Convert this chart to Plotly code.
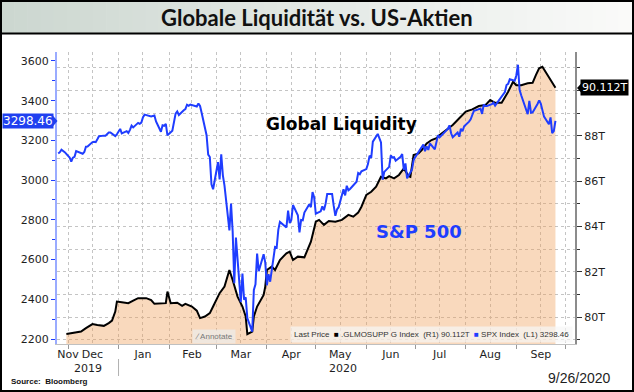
import plotly.graph_objects as go

# ---------------- data ----------------
# S&P 500 daily closes (left axis)
spx_nov19 = [(25, 3133.64), (26, 3140.52), (27, 3153.63), (29, 3140.98)]
spx_dec19 = [(2, 3113.87), (3, 3093.20), (4, 3112.76), (5, 3117.43), (6, 3145.91), (9, 3135.96),
             (10, 3132.52), (11, 3141.63), (12, 3168.57), (13, 3168.80), (16, 3191.45), (17, 3192.52),
             (18, 3191.14), (19, 3205.37), (20, 3221.22), (23, 3224.01), (24, 3223.38), (26, 3239.91),
             (27, 3240.02), (30, 3221.29), (31, 3230.78)]
spx_jan20 = [(2, 3257.85), (3, 3234.85), (6, 3246.28), (7, 3237.18), (8, 3253.05), (9, 3274.70),
             (10, 3265.35), (13, 3288.13), (14, 3283.15), (15, 3289.29), (16, 3316.81), (17, 3329.62),
             (21, 3320.79), (22, 3321.75), (23, 3325.54), (24, 3295.47), (27, 3243.63), (28, 3276.24),
             (29, 3273.40), (30, 3283.66), (31, 3225.52)]
spx_feb20 = [(3, 3248.92), (4, 3297.59), (5, 3334.69), (6, 3345.78), (7, 3327.71), (10, 3352.09),
             (11, 3357.75), (12, 3379.45), (13, 3373.94), (14, 3380.16), (18, 3370.29), (19, 3386.15),
             (20, 3373.23), (21, 3337.75), (24, 3225.89), (25, 3128.21), (26, 3116.39), (27, 2978.76),
             (28, 2954.22)]
spx_mar20 = [(2, 3090.23), (3, 3003.37), (4, 3130.12), (5, 3023.94), (6, 2972.37), (9, 2746.56),
             (10, 2882.23), (11, 2741.38), (12, 2480.64), (13, 2711.02), (16, 2386.13), (17, 2529.19),
             (18, 2398.10), (19, 2409.39), (20, 2304.92), (23, 2237.40), (24, 2447.33), (25, 2475.56),
             (26, 2630.07), (27, 2541.47), (30, 2626.65), (31, 2584.59)]
spx_apr20 = [(1, 2470.50), (2, 2526.90), (3, 2488.65), (6, 2663.68), (7, 2659.41), (8, 2749.98),
             (9, 2789.82), (13, 2761.63), (14, 2846.06), (15, 2783.36), (16, 2799.55), (17, 2874.56),
             (20, 2823.16), (21, 2736.56), (22, 2799.31), (23, 2797.80), (24, 2836.74), (27, 2878.48),
             (28, 2863.39), (29, 2939.51), (30, 2912.43)]
spx_may20 = [(1, 2830.71), (4, 2842.74), (5, 2868.44), (6, 2848.42), (7, 2881.19), (8, 2929.80),
             (11, 2930.32), (12, 2870.12), (13, 2820.00), (14, 2852.50), (15, 2863.70), (18, 2953.91),
             (19, 2922.94), (20, 2971.61), (21, 2948.51), (22, 2955.45), (26, 2991.77), (27, 3036.13),
             (28, 3029.73), (29, 3044.31)]
spx_jun20 = [(1, 3055.73), (2, 3080.82), (3, 3122.87), (4, 3112.35), (5, 3193.93), (8, 3232.39),
             (9, 3207.18), (10, 3190.14), (11, 3002.10), (12, 3041.31), (15, 3066.59), (16, 3124.74),
             (17, 3113.49), (18, 3115.34), (19, 3097.74), (22, 3117.86), (23, 3131.29), (24, 3050.33),
             (25, 3083.76), (26, 3009.05), (29, 3053.24), (30, 3100.29)]
spx_jul20 = [(1, 3115.86), (2, 3130.01), (6, 3179.72), (7, 3145.32), (8, 3169.94), (9, 3152.05),
             (10, 3185.04), (13, 3155.22), (14, 3197.52), (15, 3226.56), (16, 3215.57), (17, 3224.73),
             (20, 3251.84), (21, 3257.30), (22, 3276.02), (23, 3235.66), (24, 3215.63), (27, 3239.41),
             (28, 3218.44), (29, 3258.44), (30, 3246.22), (31, 3271.12)]
spx_aug20 = [(3, 3294.61), (4, 3306.51), (5, 3327.77), (6, 3349.16), (7, 3351.28), (10, 3360.47),
             (11, 3333.69), (12, 3380.35), (13, 3373.43), (14, 3372.85), (17, 3381.99), (18, 3389.78),
             (19, 3374.85), (20, 3385.51), (21, 3397.16), (24, 3431.28), (25, 3443.62), (26, 3478.73),
             (27, 3484.55), (28, 3508.01), (31, 3500.31)]
spx_sep20 = [(1, 3526.65), (2, 3580.84), (3, 3455.06), (4, 3426.96), (8, 3331.84), (9, 3398.96),
             (10, 3339.19), (11, 3340.97), (14, 3383.54), (15, 3401.20), (16, 3385.49), (17, 3357.01),
             (18, 3319.47), (21, 3281.06), (22, 3315.57), (23, 3236.92), (24, 3246.59), (25, 3298.46)]

# Global liquidity (.GLMOSUPP G Index, USD trillions, right axis)
liq_2019 = [("2019-11-30", 79.26), ("2019-12-04", 79.32), ("2019-12-09", 79.37), ("2019-12-12", 79.52),
            ("2019-12-16", 79.70), ("2019-12-19", 79.66), ("2019-12-23", 79.62), ("2019-12-26", 79.74),
            ("2019-12-28", 79.85), ("2019-12-30", 80.25), ("2019-12-31", 80.69)]
liq_2020 = [("2020-01-03", 80.66), ("2020-01-07", 80.62), ("2020-01-10", 80.73), ("2020-01-13", 80.84),
            ("2020-01-18", 80.84), ("2020-01-21", 80.76), ("2020-01-23", 80.59), ("2020-01-27", 80.62),
            ("2020-01-30", 80.62), ("2020-01-31", 81.13), ("2020-02-02", 80.62), ("2020-02-06", 80.64),
            ("2020-02-09", 80.50), ("2020-02-11", 80.59), ("2020-02-15", 80.47), ("2020-02-18", 80.29),
            ("2020-02-20", 79.96), ("2020-02-23", 80.03), ("2020-02-26", 80.18), ("2020-02-28", 80.47),
            ("2020-03-03", 81.06), ("2020-03-06", 81.35), ("2020-03-09", 82.08), ("2020-03-11", 81.64),
            ("2020-03-14", 80.91), ("2020-03-17", 80.47), ("2020-03-19", 80.03), ("2020-03-20", 79.25),
            ("2020-03-23", 79.37), ("2020-03-24", 80.03), ("2020-03-26", 80.47), ("2020-03-30", 80.98),
            ("2020-03-31", 81.35), ("2020-04-01", 82.08), ("2020-04-04", 82.23), ("2020-04-06", 82.08),
            ("2020-04-09", 82.52), ("2020-04-13", 82.82), ("2020-04-15", 82.89), ("2020-04-17", 82.52),
            ("2020-04-20", 82.67), ("2020-04-24", 82.64), ("2020-04-26", 82.96), ("2020-04-28", 83.33),
            ("2020-05-01", 84.21), ("2020-05-03", 84.29), ("2020-05-06", 84.07), ("2020-05-09", 84.24),
            ("2020-05-13", 84.21), ("2020-05-17", 84.29), ("2020-05-21", 84.51), ("2020-05-24", 84.43),
            ("2020-05-27", 84.61), ("2020-05-29", 84.87), ("2020-06-01", 85.39), ("2020-06-04", 85.53),
            ("2020-06-07", 85.75), ("2020-06-10", 86.19), ("2020-06-13", 86.12), ("2020-06-15", 86.22),
            ("2020-06-18", 86.12), ("2020-06-21", 86.27), ("2020-06-24", 86.56), ("2020-06-27", 86.22),
            ("2020-06-28", 86.19), ("2020-06-30", 87.15), ("2020-07-03", 87.22), ("2020-07-05", 87.37),
            ("2020-07-08", 87.66), ("2020-07-11", 87.81), ("2020-07-14", 87.89), ("2020-07-16", 88.03),
            ("2020-07-20", 88.25), ("2020-07-24", 88.47), ("2020-07-28", 88.77), ("2020-08-01", 89.06),
            ("2020-08-05", 89.16), ("2020-08-09", 89.31), ("2020-08-13", 89.35), ("2020-08-16", 89.57),
            ("2020-08-19", 89.45), ("2020-08-23", 89.45), ("2020-08-27", 89.94), ("2020-08-30", 90.38),
            ("2020-09-01", 90.23), ("2020-09-04", 90.23), ("2020-09-08", 90.31), ("2020-09-11", 90.33),
            ("2020-09-13", 90.67), ("2020-09-15", 90.97), ("2020-09-17", 91.04), ("2020-09-19", 90.82),
            ("2020-09-22", 90.45), ("2020-09-25", 90.112)]

month_tick_dates = ["2019-12-01", "2019-12-16", "2020-01-16", "2020-02-15", "2020-03-16", "2020-04-16",
                    "2020-05-16", "2020-06-16", "2020-07-16", "2020-08-16", "2020-09-16"]
month_labels = ["Nov", "Dec", "Jan", "Feb", "Mar", "Apr", "May", "Jun", "Jul", "Aug", "Sep"]
month_starts = ["2019-12-01", "2020-01-01", "2020-02-01", "2020-03-01", "2020-04-01", "2020-05-01",
                "2020-06-01", "2020-07-01", "2020-08-01", "2020-09-01", "2020-10-01"]
left_ticks = [2200, 2400, 2600, 2800, 3000, 3200, 3400, 3600]
right_ticks = [80, 82, 84, 86, 88, 90]
right_labels = ["80T", "82T", "84T", "86T", "88T", ""]  # 90T is hidden behind the last-value box
spx_last = 3298.46
liq_last = 90.112

# ---------------- build series ----------------
spx_months = [("2019-11", spx_nov19), ("2019-12", spx_dec19), ("2020-01", spx_jan20), ("2020-02", spx_feb20),
              ("2020-03", spx_mar20), ("2020-04", spx_apr20), ("2020-05", spx_may20), ("2020-06", spx_jun20),
              ("2020-07", spx_jul20), ("2020-08", spx_aug20), ("2020-09", spx_sep20)]
spx_x, spx_y = [], []
for ym, rows in spx_months:
    for d, v in rows:
        spx_x.append(f"{ym}-{d:02d}")
        spx_y.append(v)
liq_x = [d for d, _ in liq_2019 + liq_2020]
liq_y = [v for _, v in liq_2019 + liq_2020]

# ---------------- geometry helpers (pixel -> paper) ----------------
W, H = 634, 392
L, R, T, B = 57, 575, 52, 344
PW, PH = R - L, B - T


def fx(px):
    return (px - L) / PW


def fy(py):
    return (B - py) / PH


BLUE = "#1f3dff"
GRID = "#c4c4c4"
TICKFONT = dict(family="DejaVu Sans", size=11, color="#1e1e1e")

fig = go.Figure()
fig.add_trace(go.Scatter(x=liq_x, y=liq_y, yaxis="y", mode="lines", fill="tozeroy",
                         fillcolor="rgba(240,160,90,0.40)", line=dict(color="#000000", width=2),
                         name=".GLMOSUPP G Index", hoverinfo="x+y"))
fig.add_trace(go.Scatter(x=spx_x, y=spx_y, yaxis="y2", mode="lines",
                         line=dict(color=BLUE, width=2), name="SPX Index", hoverinfo="x+y"))

shapes = []
# title bar gradient
N = 48
c0, c1 = (204, 215, 208), (250, 250, 249)
for i in range(N):
    t = i / (N - 1)
    col = tuple(round(c0[k] + (c1[k] - c0[k]) * t) for k in range(3))
    x0 = 1 + i * (631 / N)
    x1 = 1 + (i + 1) * (631 / N) + 0.6
    shapes.append(dict(type="rect", xref="paper", yref="paper", x0=fx(x0), x1=fx(x1), y0=fy(33), y1=fy(1),
                       fillcolor="rgb(%d,%d,%d)" % col, line=dict(width=0), layer="below"))
# title underline and outer frame
shapes.append(dict(type="line", xref="paper", yref="paper", x0=fx(0), x1=fx(634), y0=fy(33.5), y1=fy(33.5),
                   line=dict(color="#000", width=2)))
shapes.append(dict(type="rect", xref="paper", yref="paper", x0=fx(1), x1=fx(633), y0=fy(391), y1=fy(1),
                   line=dict(color="#000", width=2)))
# year separator
shapes.append(dict(type="line", xref="x", yref="paper", x0="2020-01-01", x1="2020-01-01",
                   y0=fy(359), y1=fy(376), line=dict(color="#b0b0b0", width=1)))
# arrow of left value box
shapes.append(dict(type="path", xref="paper", yref="paper",
                   path="M %f %f L %f %f L %f %f Z" % (fx(52), fy(114.5), fx(57.5), fy(121), fx(52), fy(127.5)),
                   fillcolor="#2040f0", line=dict(width=0)))
# arrow of right value box
shapes.append(dict(type="path", xref="paper", yref="paper",
                   path="M %f %f L %f %f L %f %f Z" % (fx(583), fy(81.5), fx(577), fy(88), fx(583), fy(94.5)),
                   fillcolor="#000", line=dict(width=0)))

annotations = [
    dict(text="<b>Globale Liquidität vs. US-Aktien</b>", xref="paper", yref="paper", x=fx(317), y=fy(17),
         showarrow=False, font=dict(family="Lato", size=22, color="#111"), xanchor="center", yanchor="middle"),
    dict(text="<b>Global Liquidity</b>", xref="paper", yref="paper", x=fx(341), y=fy(124), showarrow=False,
         font=dict(family="DejaVu Sans", size=17, color="#000"), xanchor="center", yanchor="middle"),
    dict(text="<b>S&amp;P 500</b>", xref="paper", yref="paper", x=fx(419), y=fy(231), showarrow=False,
         font=dict(family="DejaVu Sans", size=18, color=BLUE), xanchor="center", yanchor="middle"),
    dict(text="2019", xref="paper", yref="paper", x=fx(88), y=fy(368.5), showarrow=False, font=TICKFONT,
         xanchor="center", yanchor="middle"),
    dict(text="2020", xref="paper", yref="paper", x=fx(343), y=fy(368.5), showarrow=False, font=TICKFONT,
         xanchor="center", yanchor="middle"),
    dict(text="<b>Source:  Bloomberg</b>", xref="paper", yref="paper", x=fx(9), y=fy(381), showarrow=False,
         font=dict(family="Liberation Sans", size=8, color="#111"), xanchor="left", yanchor="middle"),
    dict(text="9/26/2020", xref="paper", yref="paper", x=fx(612), y=fy(378), showarrow=False,
         font=dict(family="Liberation Sans", size=14, color="#1e1e1e"), xanchor="right", yanchor="middle"),
    dict(text="Last Price  <span style='color:#000'>■</span> .GLMOSUPP G Index  (R1) 90.112T  "
              "<span style='color:%s'>■</span> SPX Index  (L1) 3298.46" % BLUE,
         xref="paper", yref="paper", x=fx(573), y=fy(343), showarrow=False, xanchor="right", yanchor="bottom",
         font=dict(family="Liberation Sans", size=8, color="#333"), bgcolor="rgba(246,246,246,0.7)",
         borderpad=3),
    dict(text="∕ Annotate", xref="paper", yref="paper", x=fx(214), y=fy(336.5), showarrow=False,
         xanchor="center", yanchor="middle", font=dict(family="Liberation Sans", size=8, color="#777"),
         bgcolor="rgba(236,236,236,0.7)", borderpad=2),
    dict(text="3298.46", xref="paper", yref="y2", x=fx(27.5), y=spx_last, showarrow=False,
         xanchor="center", yanchor="middle", font=dict(family="DejaVu Sans", size=12, color="#fff"),
         bgcolor="#2040f0", borderpad=0),
    dict(text="90.112T", xref="paper", yref="y", x=fx(604.5), y=liq_last, showarrow=False,
         xanchor="center", yanchor="middle", font=dict(family="DejaVu Sans", size=11, color="#fff"),
         bgcolor="#000", borderpad=1),
]

fig.update_layout(
    width=W, height=H, margin=dict(l=L, r=W - R, t=T, b=H - B),
    paper_bgcolor="#fff", plot_bgcolor="#fff", showlegend=False,
    xaxis=dict(type="date", range=["2019-11-24 06:00", "2020-10-07"],
               tickmode="array", tickvals=month_tick_dates, ticktext=month_labels,
               showgrid=True, gridcolor=GRID, griddash="dot", gridwidth=1,
               ticks="", tickfont=TICKFONT, showline=True, linecolor="#c0c0c0", linewidth=1,
               zeroline=False, ticklabelstandoff=0,
               minor=dict(tickmode="array", tickvals=month_starts, showgrid=True, gridcolor=GRID,
                          griddash="dot", ticks="outside", ticklen=4, tickcolor="#999")),
    yaxis=dict(side="right", range=[78.82, 91.69], tickmode="array", tickvals=right_ticks,
               ticktext=right_labels, showgrid=True, gridcolor=GRID, griddash="dot", zeroline=False,
               ticks="outside", ticklen=5, tickcolor="#333", tickfont=TICKFONT,
               showline=True, linecolor="#8c8c8c", linewidth=2,
               minor=dict(dtick=1, tick0=0, showgrid=True, gridcolor=GRID, griddash="dot",
                          ticks="outside", ticklen=3, tickcolor="#333")),
    yaxis2=dict(side="left", overlaying="y", range=[2175, 3645], tickmode="array", tickvals=left_ticks,
                showgrid=False, zeroline=False, ticks="outside", ticklen=4, tickcolor=BLUE,
                tickfont=TICKFONT, showline=True, linecolor="#9aabff", linewidth=2,
                minor=dict(dtick=100, tick0=0, ticks="outside", ticklen=3, tickcolor=BLUE)),
    shapes=shapes, annotations=annotations,
)

fig.write_html("out.html", config={"displayModeBar": False})

# remove the browser's default page margin so the figure sits at the window's top-left corner
with open("out.html", "r", encoding="utf-8") as fh:
    page = fh.read()
page = page.replace("<head>", "<head><style>html,body{margin:0;padding:0;overflow:hidden}</style>", 1)
with open("out.html", "w", encoding="utf-8") as fh:
    fh.write(page)
